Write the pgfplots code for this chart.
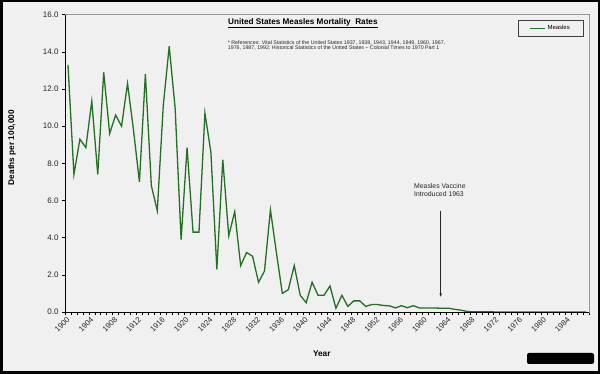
\documentclass[border=0pt]{standalone}
\usepackage{fontspec}
\setmainfont{Liberation Sans}
\usepackage{pgfplots}
\pgfplotsset{compat=1.18}
\usepackage{pgfplotstable}
\usetikzlibrary{arrows.meta}
\definecolor{bg}{RGB}{240,240,240}
\definecolor{linegreen}{RGB}{34,112,34}
\definecolor{boxgray}{RGB}{150,150,150}

\pgfplotstableread{
year rate
1900 13.3
1901 7.4
1902 9.3
1903 8.85
1904 11.35
1905 7.4
1906 12.9
1907 9.6
1908 10.6
1909 10.0
1910 12.3
1911 9.8
1912 7.0
1913 12.8
1914 6.8
1915 5.45
1916 11.1
1917 14.3
1918 10.95
1919 3.9
1920 8.85
1921 4.3
1922 4.3
1923 10.7
1924 8.6
1925 2.3
1926 8.2
1927 4.1
1928 5.4
1929 2.5
1930 3.2
1931 3.0
1932 1.6
1933 2.2
1934 5.5
1935 3.2
1936 1.0
1937 1.2
1938 2.5
1939 0.9
1940 0.5
1941 1.6
1942 0.9
1943 0.9
1944 1.4
1945 0.2
1946 0.9
1947 0.3
1948 0.6
1949 0.6
1950 0.3
1951 0.4
1952 0.4
1953 0.35
1954 0.33
1955 0.22
1956 0.34
1957 0.23
1958 0.34
1959 0.22
1960 0.22
1961 0.22
1962 0.21
1963 0.2
1964 0.2
1965 0.14
1966 0.1
1967 0.03
1968 0.01
1969 0.01
1970 0.01
1971 0.01
1972 0.0
1973 0.0
1974 0.0
1975 0.0
1976 0.0
1977 0.0
1978 0.0
1979 0.0
1980 0.0
1981 0.0
1982 0.0
1983 0.0
1984 0.0
1985 0.0
1986 0.0
1987 0.0
}\measles

\begin{document}
\begin{tikzpicture}
\fill[bg] (0bp,0bp) rectangle (600bp,374bp);
\begin{axis}[
  at={(65bp,62bp)}, anchor=south west,
  scale only axis, width=524bp, height=297.3bp,
  xmin=1899.5, xmax=1987.5, ymin=0, ymax=16,
  axis background/.style={fill=bg},
  axis line style={draw=boxgray, line width=0.6bp},
  xtick={1900,1904,...,1984},
  minor xtick={1899.5,1900.5,...,1987.5},
  ytick={0,2,...,16},
  major x tick style={draw=none},
  tick style={black, line width=0.5bp},
  tick align=outside, major tick length=3bp, minor tick length=3bp,
  xtick pos=lower, ytick pos=left,
  /pgf/number format/assume math mode=true,
  tick label style={font=\fontsize{7.8}{9}\selectfont, text=black!85},
  xticklabel style={rotate=45, anchor=east, xshift=1.5bp, yshift=-2.5bp, /pgf/number format/1000 sep={}},
  yticklabel style={font=\fontsize{8}{9.6}\selectfont, /pgf/number format/.cd, fixed, fixed zerofill, precision=1},
  xlabel={Year},
  every axis x label/.style={at={(axis description cs:0.49,-0.141)}, anchor=center, font=\bfseries\fontsize{8.3}{10}\selectfont},
  ylabel={Deaths per 100,000},
  every axis y label/.style={at={(axis description cs:-0.101,0.553)}, rotate=90, anchor=center, font=\bfseries\fontsize{8.3}{10}\selectfont},
  title={\underline{United States Measles Mortality\ \ Rates}},
  title style={at={(axis description cs:0.454,0.952)}, anchor=center, font=\bfseries\fontsize{8.2}{10}\selectfont},
  legend style={at={(axis description cs:0.9885,0.982)}, anchor=north east,
    draw=black!75, fill=bg, font=\fontsize{6}{7}\selectfont,
    inner xsep=11bp, inner ysep=3bp, cells={anchor=west}},
  legend image code/.code={\draw[#1] (0bp,0bp) -- (15bp,0bp);},
  clip=false,
]
\addplot[color=linegreen, line width=1.3bp, mark=none] table[x=year, y=rate] {\measles};
\addlegendentry{Measles}
\draw[black, line width=0.8bp] (axis description cs:0,1) -- (axis description cs:0,0) -- (axis description cs:1,0);
\node[anchor=west, align=left, font=\fontsize{5.3}{4.9}\selectfont, text=black!85, inner sep=0pt] at (axis description cs:0.3105,0.898)
  {* References: Vital Statistics of the United States 1937, 1938, 1943, 1944, 1949, 1960, 1967,\\
   1976, 1987, 1992; Historical Statistics of the United States -- Colonial Times to 1970 Part 1};
\node[anchor=north west, align=left, font=\fontsize{6.9}{8}\selectfont, text=black!85, inner sep=0pt] at (axis cs:1958.1,6.95)
  {Measles Vaccine\\Introduced 1963};
\draw[black!85, line width=0.6bp, -{Stealth[length=3.5bp,width=2.6bp]}] (axis cs:1962.6,5.45) -- (axis cs:1962.6,0.82);
\end{axis}
\fill[black, rounded corners=2bp] (527bp,10bp) rectangle (594bp,21bp);
\draw[black, line width=2.5bp] (1.25bp,1.25bp) rectangle (598.75bp,372.75bp);
\pgfresetboundingbox
\useasboundingbox (0bp,0bp) rectangle (600bp,374bp);
\end{tikzpicture}
\end{document}
